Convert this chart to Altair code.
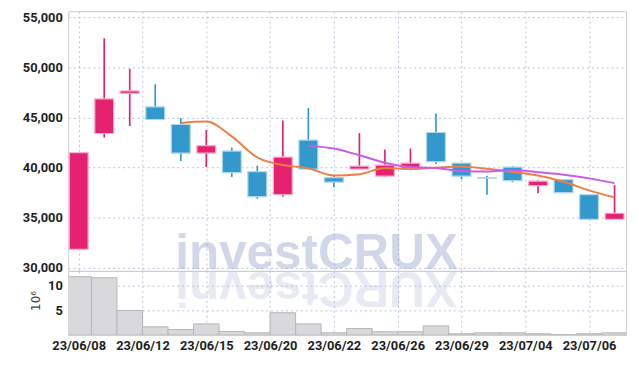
import altair as alt
import pandas as pd

# ---- data ----
dates = ["23/06/08", "23/06/09", "23/06/12", "23/06/13", "23/06/14", "23/06/15",
         "23/06/16", "23/06/19", "23/06/20", "23/06/21", "23/06/22", "23/06/23",
         "23/06/26", "23/06/27", "23/06/28", "23/06/29", "23/06/30", "23/07/03",
         "23/07/04", "23/07/05", "23/07/06", "23/07/07"]
open_ = [31850, 43400, 47400, 46050, 44300, 41450, 41650, 39600, 37300, 42750, 39000,
         39850, 39150, 39950, 43500, 40450, 39000, 40050, 38200, 38800, 37300, 34850]
high = [41550, 52900, 49850, 48300, 44950, 43750, 42000, 40200, 44700, 45950, 39300,
        43450, 41800, 41900, 45400, 40450, 39200, 40150, 38750, 38800, 37300, 38250]
low = [31850, 43000, 44150, 44800, 40650, 40050, 39050, 36900, 37100, 39850, 38050,
       39850, 39100, 39750, 40350, 38850, 37300, 38550, 37450, 37500, 34850, 34850]
close = [41500, 46850, 47650, 44800, 41450, 42200, 39500, 37100, 41050, 39850, 38550,
         40150, 40250, 40450, 40600, 39150, 38950, 38700, 38650, 37500, 34850, 35450]
volume = [11.73, 11.53, 4.94, 1.65, 1.12, 2.24, 0.72, 0.46, 4.48, 2.24, 0.46,
          1.32, 0.66, 0.66, 1.84, 0.26, 0.46, 0.46, 0.26, 0.07, 0.26, 0.46]

tick_pos = [0, 2.5, 5, 7.5, 10, 12.5, 15, 17.5, 20]
tick_labels = ["23/06/08", "23/06/12", "23/06/15", "23/06/20", "23/06/22",
               "23/06/26", "23/06/29", "23/07/04", "23/07/06"]
price_ticks = [30000, 35000, 40000, 45000, 50000, 55000]
vol_ticks = [5, 10]
watermark = ["investCRUX"]
watermark_rev = ["XURCtsevni"]

df = pd.DataFrame({
    "idx": list(range(len(dates))), "date": dates, "open": open_, "high": high,
    "low": low, "close": close, "volume": volume,
})
df["dir"] = ["up" if c >= o else "down" for o, c in zip(open_, close)]

# ---- styling ----
W, H1, H2 = 565, 263, 65
FONT = "Roboto, Liberation Sans, sans-serif"
GRID = "#b7c2da"
xscale = alt.Scale(domain=[-0.41, 21.45], nice=False, zero=False)
fill_scale = alt.Scale(domain=["up", "down"], range=["#e5226f", "#3399cc"])
stroke_scale = alt.Scale(domain=["up", "down"], range=["#f5b0cb", "#acd5ec"])
label_expr = "[" + ",".join(f"'{l}'" for l in tick_labels) + "][round(datum.value/2.5)]"

x_top = alt.X("idx:Q", scale=xscale,
              axis=alt.Axis(values=tick_pos, labels=False, ticks=False, domain=False,
                            grid=True, gridDash=[2, 3], gridColor=GRID, title=None))
price_scale = alt.Scale(domain=[29700, 55600], nice=False, zero=False)
y_price = alt.Y("low:Q", scale=price_scale,
                axis=alt.Axis(values=price_ticks, format=",d", title=None, ticks=False,
                              tickSize=0, domain=False, grid=True, gridDash=[2, 3],
                              gridColor=GRID, labelPadding=6))

base = alt.Chart(df)

wm = alt.Chart(pd.DataFrame({"t": watermark})).mark_text(
    font="Liberation Sans, Arial, sans-serif", fontWeight="bold", fontSize=50,
    color="#8c9cc8", opacity=0.4, align="center", baseline="alphabetic", clip=True
).encode(text="t:N", x=alt.value(251.5), y=alt.value(261))

wick = base.mark_rule(strokeWidth=1.7).encode(
    x=x_top, y=y_price, y2="high:Q",
    color=alt.Color("dir:N", scale=fill_scale, legend=None))

body = base.transform_calculate(
    xl="datum.idx - 0.37", xr="datum.idx + 0.37"
).mark_rect(strokeWidth=1.2).encode(
    x=alt.X("xl:Q", scale=xscale), x2="xr:Q",
    y=alt.Y("open:Q", scale=price_scale), y2="close:Q",
    fill=alt.Fill("dir:N", scale=fill_scale, legend=None),
    stroke=alt.Stroke("dir:N", scale=stroke_scale, legend=None))

ma5 = base.transform_window(
    ma="mean(close)", n="count()", frame=[-4, 0], sort=[{"field": "idx"}]
).transform_filter("datum.n == 5").mark_line(
    color="#ee7f44", strokeWidth=2, interpolate="monotone"
).encode(x=alt.X("idx:Q", scale=xscale), y=alt.Y("ma:Q", scale=price_scale))

ma10 = base.transform_window(
    ma="mean(close)", n="count()", frame=[-9, 0], sort=[{"field": "idx"}]
).transform_filter("datum.n == 10").mark_line(
    color="#c95ce6", strokeWidth=2, interpolate="monotone"
).encode(x=alt.X("idx:Q", scale=xscale), y=alt.Y("ma:Q", scale=price_scale))

price = alt.layer(wm, wick, body, ma5, ma10).properties(width=W, height=H1)

# ---- volume panel ----
x_bot = alt.X("xl:Q", scale=xscale,
              axis=alt.Axis(values=tick_pos, labelExpr=label_expr, ticks=False, tickSize=0,
                            domain=False, grid=True, gridDash=[2, 3], gridColor=GRID,
                            title=None, labelPadding=5))

wm2 = alt.Chart(pd.DataFrame({"t": watermark_rev})).mark_text(
    font="Liberation Sans, Arial, sans-serif", fontWeight="bold", fontSize=50,
    color="#8c9cc8", opacity=0.2, align="center", baseline="alphabetic", angle=180,
    clip=True
).encode(text="t:N", x=alt.value(251.5), y=alt.value(1))

vbars = base.transform_calculate(
    xl="datum.idx - 0.5", xr="datum.idx + 0.5", v0="0"
).mark_rect(fill="#d9d9db", stroke="#b5b5b9", strokeWidth=1, clip=True).encode(
    x=x_bot, x2="xr:Q",
    y=alt.Y("volume:Q", scale=alt.Scale(domain=[0, 12.9], nice=False),
            axis=alt.Axis(values=vol_ticks, title="10⁶", ticks=False, tickSize=0,
                          domain=False, grid=True, gridDash=[2, 3], gridColor=GRID,
                          labelPadding=6, titleAngle=-90, titleX=-33, titleY=30,
                          titleAlign="center", titleBaseline="middle",
                          titleFont="DejaVu Sans, sans-serif", titleFontSize=12,
                          titleFontWeight="normal", titleColor="#444444")),
    y2="v0:Q")

vol = alt.layer(wm2, vbars).properties(width=W, height=H2)

chart = alt.vconcat(price, vol, spacing=0, bounds="flush").properties(
    padding={"left": 14, "top": 0, "right": 4, "bottom": 4}
).configure_view(stroke="#cccccc", strokeWidth=1).configure_axis(
    labelFont=FONT, labelFontSize=13, labelColor="#1e1e1e", labelFontWeight="bold"
)

chart.save("out.html", embed_options={"renderer": "svg", "actions": False})
